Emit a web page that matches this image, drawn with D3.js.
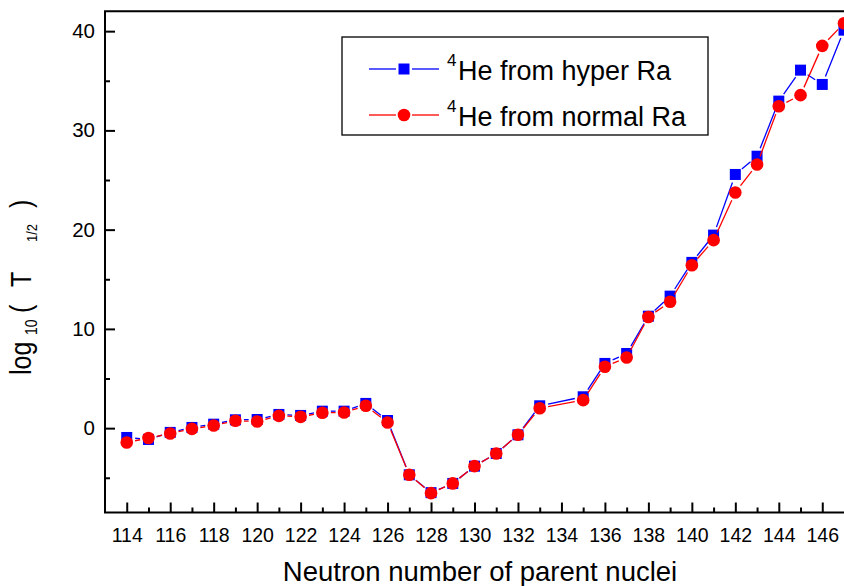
<!DOCTYPE html>
<html><head><meta charset="utf-8">
<script src="https://cdn.jsdelivr.net/npm/d3@7"></script>
<style>body{margin:0;background:#fff}svg{display:block}text{font-family:"Liberation Sans",Arial,sans-serif}</style>
</head><body>
<svg id="c" width="844" height="586"></svg>
<script>
const neutrons = [114,115,116,117,118,119,120,121,122,123,124,125,126,127,128,129,130,131,132,133,135,136,137,138,139,140,141,142,143,144,145,146,147];
const hyperRa  = [-0.94,-1.14,-0.43,0.07,0.40,0.84,0.87,1.38,1.28,1.71,1.71,2.49,0.77,-4.70,-6.50,-5.57,-3.83,-2.55,-0.67,2.25,3.16,6.52,7.52,11.28,13.30,16.70,19.45,25.56,27.40,32.95,36.07,34.63,40.10];
const normalRa = [-1.44,-1.00,-0.54,-0.07,0.27,0.74,0.67,1.24,1.14,1.55,1.58,2.25,0.57,-4.70,-6.55,-5.57,-3.83,-2.55,-0.67,2.00,2.82,6.18,7.12,11.20,12.73,16.42,18.94,23.75,26.57,32.44,33.55,38.52,40.80];
const xMajorTicks = [114,116,118,120,122,124,126,128,130,132,134,136,138,140,142,144,146];
const xMinorTicks = [115,117,119,121,123,125,127,129,131,133,135,137,139,141,143,145];
const yMajorTicks = [0,10,20,30,40];
const yMinorTicks = [-5,5,15,25,35];
const seriesNames = ["He from hyper Ra","He from normal Ra"];

const svg = d3.select("#c");
const x = d3.scaleLinear().domain([113,147]).range([105,844]);
const y = d3.scaleLinear().domain([-8.5,42]).range([512.5,11.3]);
const L = 105, R = 846, T = 11.3, B = 512.5;
const FONT = "Liberation Sans, Arial, sans-serif";

const gx = svg.append("g").attr("transform",`translate(0,${B})`);
gx.call(d3.axisBottom(x).tickValues(xMajorTicks).tickSizeInner(-10).tickSizeOuter(0).tickFormat(d3.format("d")).tickPadding(16));
const gx2 = svg.append("g").attr("transform",`translate(0,${B})`);
gx2.call(d3.axisBottom(x).tickValues(xMinorTicks).tickSizeInner(-5).tickSizeOuter(0).tickFormat(""));
const gy = svg.append("g").attr("transform",`translate(${L},0)`);
gy.call(d3.axisLeft(y).tickValues(yMajorTicks).tickSizeInner(-10).tickSizeOuter(0).tickFormat(d3.format("d")).tickPadding(10));
const gy2 = svg.append("g").attr("transform",`translate(${L},0)`);
gy2.call(d3.axisLeft(y).tickValues(yMinorTicks).tickSizeInner(-5).tickSizeOuter(0).tickFormat(""));
[gx,gx2,gy,gy2].forEach(g=>{g.select(".domain").remove();g.selectAll("line").attr("stroke","#000").attr("stroke-width",2);});
gx.selectAll("text").attr("font-size",19.5).attr("fill","#000").attr("font-family",FONT);
gy.selectAll("text").attr("font-size",20.5).attr("fill","#000").attr("font-family",FONT);

svg.append("path").attr("d",`M${R},${T}H${L}V${B}H${R}`).attr("fill","none").attr("stroke","#000").attr("stroke-width",2);

function drawSeries(vals,color,shape){
  const pts = neutrons.map((n,i)=>[x(n),y(vals[i])]);
  const gap = 8.5;
  const g = svg.append("g");
  for(let i=0;i<pts.length-1;i++){
    const [x1,y1]=pts[i],[x2,y2]=pts[i+1];
    const dx=x2-x1,dy=y2-y1,len=Math.hypot(dx,dy);
    if(len<=2*gap) continue;
    const ux=dx/len,uy=dy/len;
    g.append("line").attr("x1",x1+ux*gap).attr("y1",y1+uy*gap).attr("x2",x2-ux*gap).attr("y2",y2-uy*gap)
      .attr("stroke",color).attr("stroke-width",1.3);
  }
  pts.forEach(p=>{
    if(shape==="square") g.append("rect").attr("x",p[0]-5.5).attr("y",p[1]-5.5).attr("width",11).attr("height",11).attr("fill",color);
    else g.append("circle").attr("cx",p[0]).attr("cy",p[1]).attr("r",6.3).attr("fill",color);
  });
}
drawSeries(hyperRa,"#0000ff","square");
drawSeries(normalRa,"#ff0000","circle");

const lg = svg.append("g");
lg.append("rect").attr("x",342).attr("y",37).attr("width",366).attr("height",98).attr("fill","#fff").attr("stroke","#000").attr("stroke-width",1.3);
const rows=[{y:69,c:"#0000ff",s:"square"},{y:115,c:"#ff0000",s:"circle"}];
rows.forEach((r,i)=>{
  lg.append("line").attr("x1",369).attr("x2",396).attr("y1",r.y).attr("y2",r.y).attr("stroke",r.c).attr("stroke-width",1.3);
  lg.append("line").attr("x1",412).attr("x2",439).attr("y1",r.y).attr("y2",r.y).attr("stroke",r.c).attr("stroke-width",1.3);
  if(r.s==="square") lg.append("rect").attr("x",404-5.5).attr("y",r.y-5.5).attr("width",11).attr("height",11).attr("fill",r.c);
  else lg.append("circle").attr("cx",404).attr("cy",r.y).attr("r",6.3).attr("fill",r.c);
  lg.append("text").attr("x",447).attr("y",r.y-3).attr("font-size",17).attr("fill","#000").text("4");
  lg.append("text").attr("x",458).attr("y",r.y+11).attr("font-size",27).attr("fill","#000").text(seriesNames[i]);
});

svg.append("text").attr("x",480).attr("y",581).attr("text-anchor","middle").attr("font-size",27.5).attr("fill","#000").text("Neutron number of parent nuclei");

const yt = svg.append("g").attr("transform","translate(31,375) rotate(-90) scale(1,1.15)");
const ytParts = [
  {t:"log", dx:0, dy:0, fs:25},
  {t:"10", dx:40, dy:5, fs:14},
  {t:"(", dx:62, dy:0, fs:25},
  {t:"T", dx:88, dy:0, fs:25},
  {t:"1/2", dx:133, dy:5, fs:13},
  {t:")", dx:167, dy:0, fs:25}
];
ytParts.forEach(p=>{
  yt.append("text").attr("x",p.dx).attr("y",p.dy).attr("font-size",p.fs).attr("fill","#000").text(p.t);
});
</script>
</body></html>
